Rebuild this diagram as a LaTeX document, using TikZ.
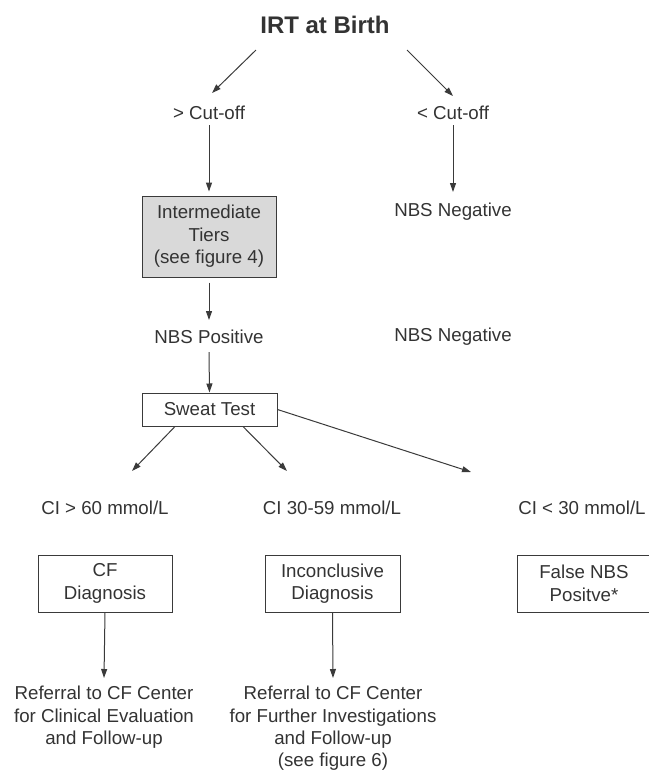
\documentclass[tikz,border=0pt]{standalone}
\usepackage{fontspec}
\setmainfont{Liberation Sans}
\usetikzlibrary{arrows.meta}
\definecolor{gristexto}{HTML}{333333}
\definecolor{grislinea}{HTML}{3A3A3A}
\definecolor{grisfondo}{HTML}{D9D9D9}
\begin{document}
\begin{tikzpicture}[   % opciones por defecto
  x=0.5pt, y=-0.5pt,   % unidades en pixeles, eje y hacia abajo
  -{Stealth[length=4.5pt, width=3pt, inset=0pt]}, % estilo de flecha al final
  draw=grislinea,      % linea gris oscuro
  line width=0.5pt,
  text=gristexto,
  font=\fontsize{9.35}{11.2}\selectfont
]
  \tikzstyle{caja}=[draw=grislinea, rectangle, align=center, inner sep=0pt];
  \tikzstyle{texto}=[align=center, inner sep=0pt];
  %
  % marco de la imagen
  \useasboundingbox (0,0) rectangle (649,773);
  %
  % raiz
  \node [font=\fontsize{12}{14}\selectfont\bfseries] (irt) at (325,25) {IRT at Birth};
  %
  % punto de corte
  \node [texto] (cut1) at (209,113) {> Cut-off};
  \node [texto] (cut2) at (453,113) {< Cut-off};
  \draw ([shift={(-69,25)}]irt.center) -- ([shift={(3,-20)}]cut1.center);
  \draw ([shift={(82,25)}]irt.center) -- ([shift={(0,-17)}]cut2.center);
  %
  % niveles intermedios
  \node [caja, fill=grisfondo, minimum width=67pt, minimum height=40.5pt]
    (tiers) at (209,236.5) {Intermediate\\Tiers\\(see figure 4)};
  \node [texto] (neg1) at (453,212) {NBS Negative};
  \draw ([shift={(0,12)}]cut1.center) -- ([shift={(0,-4)}]tiers.north);
  \draw ([shift={(0,12)}]cut2.center) -- ([shift={(0,-20)}]neg1.center);
  %
  % resultado del cribado
  \node [texto] (pos) at (209,337) {NBS Positive};
  \node [texto] (neg2) at (453,337) {NBS Negative};
  \draw ([shift={(0,5)}]tiers.south) -- ([shift={(0,-17)}]pos.center);
  %
  % test del sudor
  \node [caja, minimum width=67.5pt, minimum height=16.5pt] (sweat) at (209.5,409.5) {Sweat Test};
  \draw ([shift={(0,15)}]pos.center) -- (sweat.north);
  %
  % valores de cloruro
  \node [texto] (ci1) at (105,508) {CI > 60 mmol/L};
  \node [texto] (ci2) at (332,508) {CI 30-59 mmol/L};
  \node [texto] (ci3) at (582,508) {CI < 30 mmol/L};
  \draw ([shift={(-34.5,0)}]sweat.south) -- ([shift={(27,-37)}]ci1.center);
  \draw ([shift={(33.5,0)}]sweat.south) -- ([shift={(-45,-37)}]ci2.center);
  \draw (sweat.east) -- ([shift={(-111,-36)}]ci3.center);
  %
  % diagnosticos
  \node [caja, minimum width=67pt, minimum height=28.5pt] (cf) at (105,583.5) {CF\\Diagnosis};
  \node [caja, minimum width=67.5pt, minimum height=28.5pt] (inc) at (332.5,583.5) {Inconclusive\\Diagnosis};
  \node [caja, minimum width=67pt, minimum height=28.5pt] (fnbs) at (584,583.5) {False NBS\\Positve*};
  %
  % derivacion
  \node [texto] (ref1) at (104,717.5) {Referral to CF Center\\for Clinical Evaluation\\and Follow-up};
  \node [texto] (ref2) at (333,728.5) {Referral to CF Center\\for Further Investigations\\and Follow-up\\(see figure 6)};
  \draw (cf.south) -- ([shift={(0,-39.5)}]ref1.center);
  \draw (inc.south) -- ([shift={(0,-50.5)}]ref2.center);
\end{tikzpicture}
\end{document}
